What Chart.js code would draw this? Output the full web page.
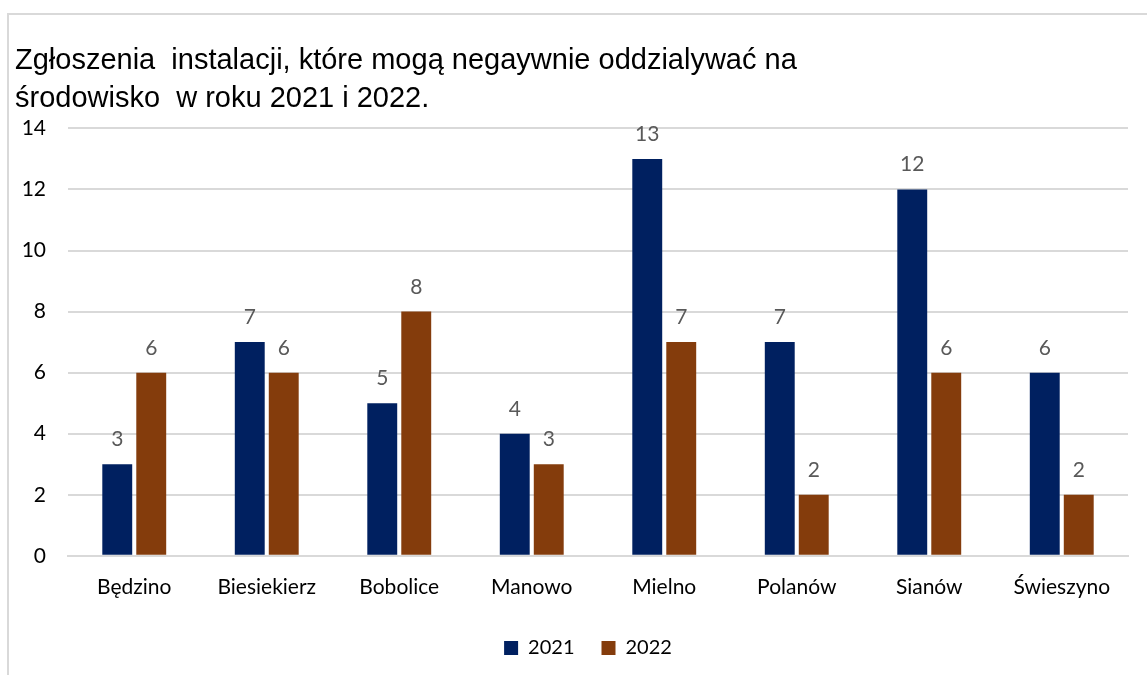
<!DOCTYPE html>
<html>
<head>
<meta charset="utf-8">
<script src="https://cdn.jsdelivr.net/npm/chart.js@4"></script>
<style>
  body { margin: 0; background: #fff; }
  .frame { position: absolute; left: 7px; top: 13px; width: 1160px; height: 680px; border: 2px solid #d9d9d9; }
  .wrap { position: absolute; left: 0; top: 0; width: 1147px; height: 675px; }
</style>
</head>
<body>
<div class="frame"></div>
<div class="wrap"><canvas id="myChart" width="1147" height="675"></canvas></div>
<script>
// chart data
const gminy = ['Będzino', 'Biesiekierz', 'Bobolice', 'Manowo', 'Mielno', 'Polanów', 'Sianów', 'Świeszyno'];
const rok2021 = [3, 7, 5, 4, 13, 7, 12, 6];
const rok2022 = [6, 6, 8, 3, 7, 2, 6, 2];
const yTicks = [0, 2, 4, 6, 8, 10, 12, 14];
const titleLines = ['Zgłoszenia  instalacji, które mogą negaywnie oddzialywać na', 'środowisko  w roku 2021 i 2022.'];

const labelFont = '"Lato", "Open Sans", sans-serif';

// simple value labels above bars
const valueLabels = {
  id: 'valueLabels',
  afterDatasetsDraw(chart) {
    const ctx = chart.ctx;
    ctx.save();
    ctx.font = '21px ' + labelFont;
    ctx.fillStyle = '#595959';
    ctx.textAlign = 'center';
    ctx.textBaseline = 'alphabetic';
    chart.data.datasets.forEach((ds, i) => {
      chart.getDatasetMeta(i).data.forEach((bar, j) => {
        ctx.fillText(ds.data[j], bar.x, bar.y - 18);
      });
    });
    ctx.restore();
  }
};

// legend sits centred under the plot area, not the whole canvas
const legendShift = {
  id: 'legendShift',
  afterLayout(chart) {
    const lg = chart.legend;
    const mid = (chart.chartArea.left + chart.chartArea.right) / 2;
    const dx = mid - (lg.left + lg.right) / 2 - 10;
    lg.left += dx;
    lg.right += dx;
  }
};

new Chart(document.getElementById('myChart').getContext('2d'), {
  type: 'bar',
  data: {
    labels: gminy,
    datasets: [
      { label: '2021', data: rok2021, backgroundColor: '#002060', barPercentage: 0.88, categoryPercentage: 0.513 },
      { label: '2022', data: rok2022, backgroundColor: '#843c0c', barPercentage: 0.88, categoryPercentage: 0.513 }
    ]
  },
  options: {
    responsive: false,
    animation: false,
    layout: { padding: { left: 15, right: 19, top: 42, bottom: 7 } },
    plugins: {
      title: {
        display: true,
        text: titleLines,
        align: 'start',
        color: '#000',
        font: { family: '"Liberation Sans", Arial, sans-serif', size: 29, weight: 'normal', lineHeight: 1.3 },
        padding: { top: 0, bottom: 11 }
      },
      legend: {
        position: 'bottom',
        labels: {
          color: '#000',
          font: { family: labelFont, size: 20 },
          boxWidth: 14, boxHeight: 14, padding: 27
        }
      },
      tooltip: { enabled: false }
    },
    scales: {
      x: {
        grid: { display: false },
        border: { color: '#d9d9d9', width: 2 },
        ticks: { color: '#000', font: { family: labelFont, size: 21 }, padding: 11 }
      },
      y: {
        min: 0, max: 14,
        afterBuildTicks: (axis) => { axis.ticks = yTicks.map(v => ({ value: v })); },
        afterFit: (axis) => { axis.width = 53; },
        grid: { color: '#d9d9d9', lineWidth: 2, drawTicks: false },
        border: { display: false },
        ticks: { color: '#000', font: { family: labelFont, size: 21 }, padding: 22 }
      }
    }
  },
  plugins: [valueLabels, legendShift]
});
</script>
</body>
</html>
